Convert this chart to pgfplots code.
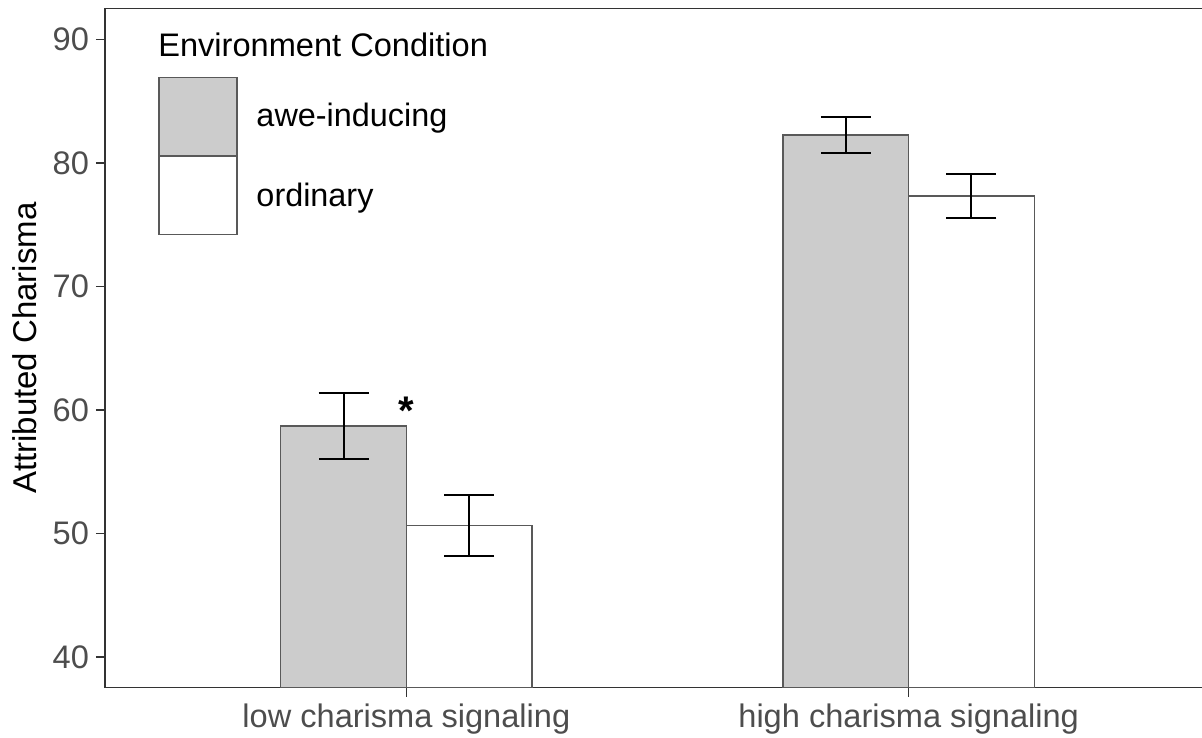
\documentclass[border=0pt]{standalone}
\usepackage{fontspec}
\setmainfont{Liberation Sans}
\usepackage{pgfplots}
\pgfplotsset{compat=1.18}
\definecolor{axisgray}{HTML}{333333}
\definecolor{ticktext}{HTML}{4D4D4D}
\definecolor{barfill}{HTML}{CCCCCC}
\definecolor{baredge}{HTML}{595959}
\begin{document}
\begin{tikzpicture}
\begin{axis}[
  at={(0pt,0pt)}, anchor=south west,
  scale only axis, width=548.75pt, height=339.75pt,
  xmin=0.4, xmax=2.584, ymin=37.5, ymax=92.5,
  axis x line*=bottom, axis y line*=left,
  axis line style={-, axisgray, line width=0.75pt},
  xtick={1,2}, xticklabels={low charisma signaling, high charisma signaling},
  ytick={40,50,60,70,80,90},
  tick align=outside, major tick length=4.5pt,
  tick style={axisgray, line width=0.75pt},
  ticklabel style={font=\fontsize{16.3}{19}\selectfont, text=ticktext},
  /pgf/number format/assume math mode=true,
  every axis y label/.style={at={(rel axis cs:0,0.5)}, xshift=-40pt, rotate=90, anchor=center, font=\fontsize{16.5}{19}\selectfont},
  ylabel={Attributed Charisma},
  ybar, bar width=0.25,
  clip mode=individual,
  legend style={at={(0.0483,0.8996)}, anchor=north west, draw=none, fill=none, inner sep=0pt, row sep=0pt, column sep=0pt, nodes={inner sep=0pt, font=\fontsize{16.2}{19}\selectfont, text=black}},
  legend cell align=left,
]
\addplot[ybar, bar shift=-0.125, fill=barfill, draw=baredge, line width=0.6pt,
  legend image code/.code={\draw[fill=barfill, draw=baredge, line width=0.6pt] (0pt,-19.5pt) rectangle (39pt,19.5pt); \path (48.5pt,0pt);},
  error bars/.cd, y dir=both, y explicit,
  error bar style={black, line width=1pt},
  error mark options={rotate=90, black, line width=1pt, mark size=12.5pt}]
  coordinates {(1,58.69) +- (0,2.68) (2,82.26) +- (0,1.48)};
\addlegendentry{awe-inducing}
\addplot[ybar, bar shift=0.125, fill=white, draw=baredge, line width=0.6pt,
  legend image code/.code={\draw[fill=white, draw=baredge, line width=0.6pt] (0pt,-19.5pt) rectangle (39pt,19.5pt); \path (48.5pt,0pt);},
  error bars/.cd, y dir=both, y explicit,
  error bar style={black, line width=1pt},
  error mark options={rotate=90, black, line width=1pt, mark size=12.5pt}]
  coordinates {(1,50.65) +- (0,2.49) (2,77.32) +- (0,1.80)};
\addlegendentry{ordinary}
\draw[axisgray, line width=0.75pt] (rel axis cs:0,1) -- (rel axis cs:1,1);
\node[anchor=west, inner sep=0pt, font=\fontsize{16.3}{19}\selectfont] at ([xshift=26.5pt, yshift=-18.25pt]rel axis cs:0,1) {Environment Condition};
\node[anchor=base, inner sep=0pt, font=\fontsize{20}{24}\selectfont\bfseries] at (axis cs:1,58.85) {*};
\end{axis}
\pgfresetboundingbox
\path[use as bounding box] (-52.5pt,-25pt) rectangle (548.75pt,344pt);
\end{tikzpicture}
\end{document}
